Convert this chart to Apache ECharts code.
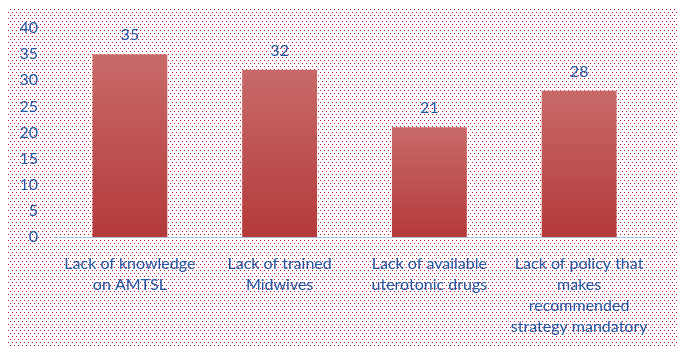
<!DOCTYPE html>
<html>
<head>
<meta charset="utf-8">
<script src="https://cdn.jsdelivr.net/npm/echarts@6/dist/echarts.min.js"></script>
<style>
  html, body { margin: 0; padding: 0; background: #fff; }
  #chart { width: 682px; height: 357px; }
</style>
</head>
<body>
<div id="chart"></div>
<script>
const categories = [
  "Lack of knowledge\non AMTSL",
  "Lack of trained\nMidwives",
  "Lack of available\nuterotonic drugs",
  "Lack of policy that\nmakes\nrecommended\nstrategy mandatory",
];
const values = [35, 32, 21, 28];
const yTicks = [0, 5, 10, 15, 20, 25, 30, 35, 40];

const TEXT_COLOR = "#2456a4";
const FONT = "Lato, 'Open Sans', sans-serif";

// dotted background tile
const tile = document.createElement("canvas");
tile.width = 4;
tile.height = 6;
const tctx = tile.getContext("2d");
tctx.fillStyle = "#ffffff";
tctx.fillRect(0, 0, 4, 6);
tctx.fillStyle = "#c8102e";
tctx.fillRect(0, 0, 1, 1);
tctx.fillRect(2, 3, 1, 1);

const chart = echarts.init(document.getElementById("chart"));

const option = {
  backgroundColor: "#ffffff",
  animation: false,
  graphic: [
    {
      type: "rect",
      z: -10,
      silent: true,
      shape: { x: 7, y: 7, width: 670, height: 340 },
      style: { fill: { image: tile, repeat: "repeat" } },
    },
  ],
  grid: { left: 55, right: 28, top: 28, bottom: 120 },
  xAxis: {
    type: "category",
    data: categories,
    axisLine: { lineStyle: { color: "#a9c1e0", width: 1 } },
    axisTick: { show: false },
    axisLabel: {
      interval: 0,
      color: TEXT_COLOR,
      fontFamily: FONT,
      fontSize: 16,
      lineHeight: 21,
      margin: 16,
    },
  },
  yAxis: {
    type: "value",
    min: yTicks[0],
    max: yTicks[yTicks.length - 1],
    interval: 5,
    axisLine: { show: false },
    axisTick: { show: false },
    splitLine: { show: false },
    axisLabel: {
      color: TEXT_COLOR,
      fontFamily: FONT,
      fontSize: 16,
      margin: 17,
    },
  },
  series: [
    {
      type: "bar",
      data: values,
      barWidth: "50%",
      itemStyle: {
        color: new echarts.graphic.LinearGradient(0, 0, 0, 1, [
          { offset: 0, color: "#c86a6a" },
          { offset: 1, color: "#b43a3a" },
        ]),
      },
      label: {
        show: true,
        position: "top",
        distance: 11,
        color: TEXT_COLOR,
        fontFamily: FONT,
        fontSize: 16,
      },
    },
  ],
};

chart.setOption(option);
</script>
</body>
</html>
